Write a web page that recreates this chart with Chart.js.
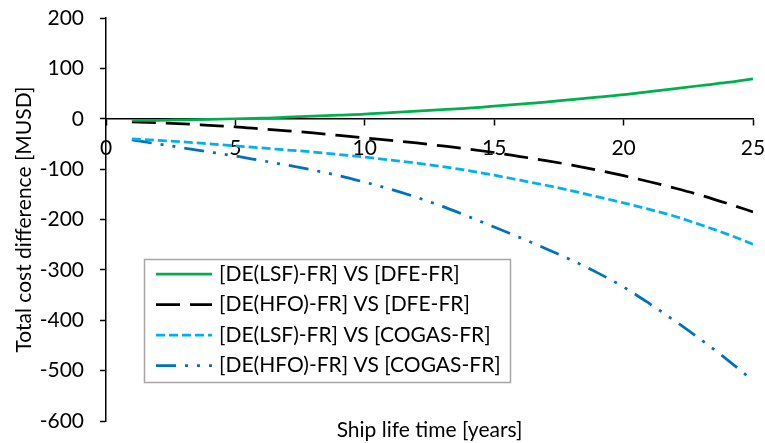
<!DOCTYPE html>
<html>
<head>
<meta charset="utf-8">
<script src="https://cdn.jsdelivr.net/npm/chart.js@4.4.1/dist/chart.umd.min.js"></script>
<style>
  html, body { margin: 0; padding: 0; background: #fff; }
</style>
</head>
<body>
<canvas id="costChart" width="765" height="443"></canvas>
<script>
// ship life time, years
const years = [1, 2, 3, 4, 5, 6, 7, 8, 9, 10, 11, 12, 13, 14, 15, 16, 17, 18, 19, 20, 21, 22, 23, 24, 25];

// total cost difference [MUSD]
const lsfVsDfe = [-3, -3, -2, -1, 0, 1, 3, 5, 7, 9, 12, 15, 18, 21, 25, 29, 33, 38, 43, 48, 54, 60, 66, 72, 79];
const hfoVsDfe = [-6, -8, -10, -13, -16, -20, -24, -28, -33, -38, -43, -48, -54, -60, -67, -75, -83, -92, -102, -113, -125, -138, -152, -168, -185];
const lsfVsCogas = [-40, -43, -46, -50, -54, -58, -62, -66, -71, -76, -82, -88, -95, -103, -112, -122, -132, -143, -155, -167, -180, -194, -211, -229, -249];
const hfoVsCogas = [-42, -50, -58, -66, -74, -83, -92, -102, -113, -126, -140, -156, -174, -194, -215, -236, -258, -281, -306, -334, -367, -402, -439, -478, -520];

const seriesLabels = [
  "[DE(LSF)-FR] VS [DFE-FR]",
  "[DE(HFO)-FR] VS [DFE-FR]",
  "[DE(LSF)-FR] VS [COGAS-FR]",
  "[DE(HFO)-FR] VS [COGAS-FR]",
];

const xTitle = "Ship life time [years]";
const yTitle = "Total cost difference [MUSD]";

const FONT = "Lato, 'Open Sans', sans-serif";

function toPoints(values) {
  return values.map((v, i) => ({ x: years[i], y: v }));
}

// stop chart.js from reserving extra room for label overflow
function noOverflow(scale) {
  scale.paddingTop = 0;
  scale.paddingBottom = 0;
  scale.paddingLeft = 0;
  scale.paddingRight = 0;
}

// legend drawn as a box inside the plot, like the original
const boxLegend = {
  id: "boxLegend",
  afterDraw(chart) {
    const ctx = chart.ctx;
    ctx.save();
    ctx.fillStyle = "#fff";
    ctx.fillRect(144, 259, 366, 123);
    ctx.strokeStyle = "#a6a6a6";
    ctx.lineWidth = 1.5;
    ctx.strokeRect(144.5, 259.5, 366, 123);
    chart.data.datasets.forEach((ds, i) => {
      const y = 274 + i * 30.5;
      ctx.setLineDash(ds.borderDash || []);
      ctx.strokeStyle = ds.borderColor;
      ctx.lineWidth = ds.borderWidth;
      ctx.beginPath();
      ctx.moveTo(156, y);
      ctx.lineTo(212, y);
      ctx.stroke();
      ctx.setLineDash([]);
      ctx.fillStyle = "#000";
      ctx.font = "21px " + FONT;
      ctx.textBaseline = "middle";
      ctx.fillText(ds.label, 219, y);
    });
    ctx.restore();
  },
};

const ctx = document.getElementById("costChart").getContext("2d");

new Chart(ctx, {
  type: "line",
  data: {
    datasets: [
      {
        label: seriesLabels[0],
        data: toPoints(lsfVsDfe),
        borderColor: "#00b050",
        borderWidth: 2.75,
      },
      {
        label: seriesLabels[1],
        data: toPoints(hfoVsDfe),
        borderColor: "#000000",
        borderWidth: 2.75,
        borderDash: [24, 10],
      },
      {
        label: seriesLabels[2],
        data: toPoints(lsfVsCogas),
        borderColor: "#00b0f0",
        borderWidth: 2.75,
        borderDash: [9, 4],
      },
      {
        label: seriesLabels[3],
        data: toPoints(hfoVsCogas),
        borderColor: "#0070c0",
        borderWidth: 2.75,
        borderDash: [20, 9, 3, 9, 3, 9],
      },
    ],
  },
  options: {
    responsive: false,
    animation: false,
    devicePixelRatio: 1,
    layout: {
      padding: { left: 0, right: 12, top: 18, bottom: 0 },
    },
    elements: {
      point: { radius: 0 },
      line: { cubicInterpolationMode: "monotone", fill: false },
    },
    plugins: {
      legend: { display: false },
      tooltip: { enabled: false },
    },
    scales: {
      x: {
        type: "linear",
        position: { y: 0 },
        min: 0,
        max: 25,
        ticks: {
          stepSize: 5,
          color: "#000",
          padding: 11,
          maxRotation: 0,
          font: { family: FONT, size: 21 },
        },
        grid: {
          drawOnChartArea: false,
          drawTicks: true,
          tickLength: 6,
          tickWidth: 1.5,
          tickColor: "#000",
        },
        border: { color: "#000", width: 1.5 },
        afterFit: noOverflow,
      },
      xTitleAxis: {
        type: "linear",
        axis: "x",
        position: "bottom",
        min: 0,
        max: 25,
        ticks: { display: false },
        grid: { display: false },
        border: { display: false },
        title: {
          display: true,
          text: xTitle,
          color: "#000",
          padding: { top: 0, bottom: 0 },
          font: { family: FONT, size: 21 },
        },
        afterFit(scale) {
          noOverflow(scale);
          scale.height = 22;
        },
      },
      y: {
        min: -600,
        max: 200,
        ticks: {
          stepSize: 100,
          color: "#000",
          padding: 16,
          font: { family: FONT, size: 21 },
        },
        grid: {
          drawOnChartArea: false,
          drawTicks: true,
          tickLength: 6,
          tickWidth: 1.5,
          tickColor: "#000",
        },
        border: { color: "#000", width: 1.5 },
        title: {
          display: true,
          text: yTitle,
          color: "#000",
          padding: { top: 12, bottom: 0 },
          font: { family: FONT, size: 21 },
        },
        afterFit(scale) {
          noOverflow(scale);
          scale.width = 106;
        },
      },
    },
  },
  plugins: [boxLegend],
});
</script>
</body>
</html>
